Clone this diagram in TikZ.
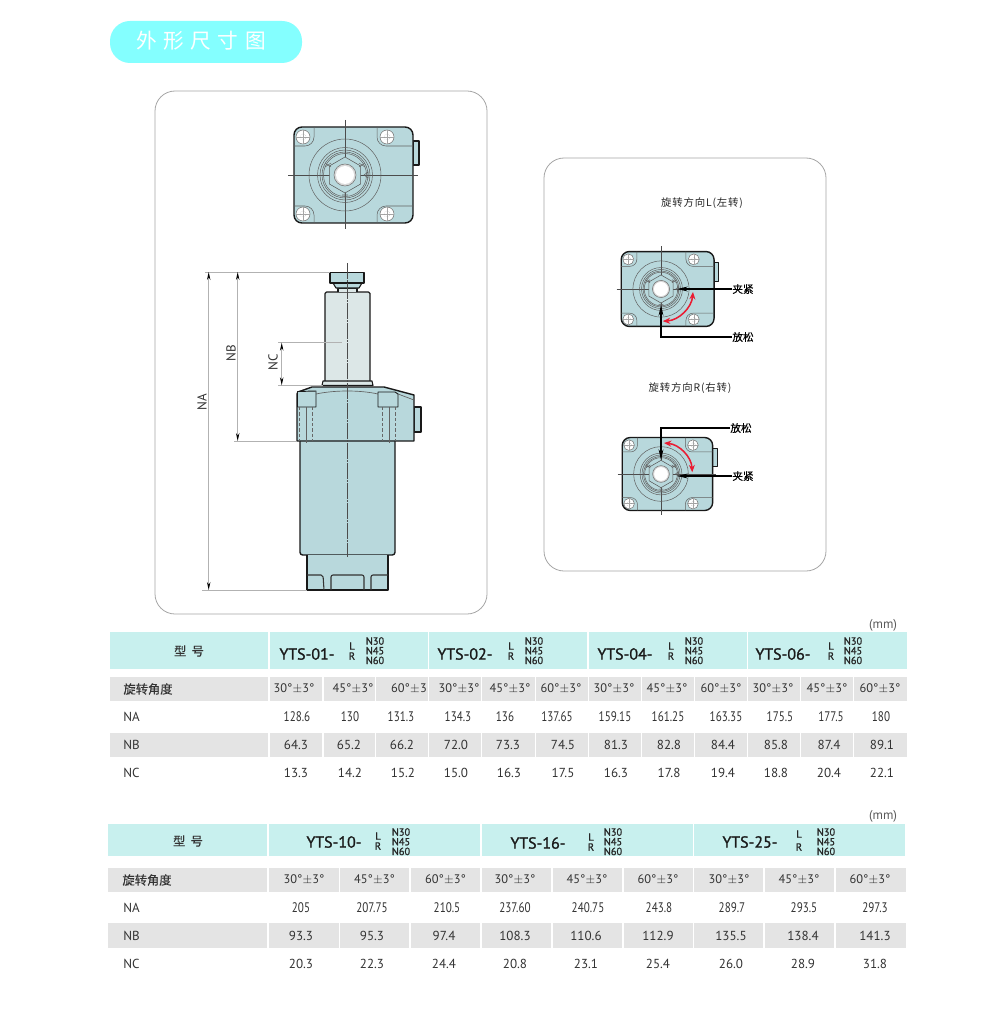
\documentclass[tikz,border=0pt]{standalone}
\usepackage{fontspec}
\usetikzlibrary{arrows.meta}
\setmainfont{PT Sans}
\newfontfamily\cjk{Noto Sans CJK SC}
\newfontfamily\cjkm[FakeBold=0.3]{Noto Sans CJK SC}
\newfontfamily\cjkt[LetterSpace=8]{Noto Sans CJK SC}
\newfontfamily\cond[FakeStretch=0.8]{PT Sans}
\newfontfamily\medf[FakeBold=1.2]{PT Sans}
\newcommand\pmt{\kern.2pt$\pm$\kern.2pt}
\definecolor{bodyc}{HTML}{B8D8DC}
\definecolor{plungerc}{HTML}{DCE7E7}
\definecolor{headc}{HTML}{C8F0EE}
\definecolor{rowc}{HTML}{E4E4E4}
\definecolor{pillc}{HTML}{84FFFF}
\definecolor{inkc}{HTML}{333333}
\definecolor{arcc}{HTML}{EA1C32}
\tikzset{
  panel/.style={draw=black!35,line width=.6pt,fill=white,rounded corners=15pt},
  part/.style={draw=black!90,line width=1.05pt,line join=round,fill=bodyc},
  thinl/.style={draw=black!62,line width=.38pt},
  hid/.style={draw=black!60,line width=.4pt,dash pattern=on 2.5pt off 1.5pt},
  axisl/.style={draw=black!70,line width=.4pt,dash pattern=on 12pt off 1pt on 1pt off 1pt},
  extl/.style={draw=black!30,line width=.7pt},
  diml/.style={draw=black!30,line width=.7pt,{Stealth[length=6pt,width=2.6pt,black]}-{Stealth[length=6pt,width=2.6pt,black]}},
  leader/.style={draw=black,line width=.9pt,-{Stealth[length=8pt,width=3.6pt]}},
  turn/.style={draw=arcc,line width=1.15pt,{Stealth[length=5.5pt,width=4.5pt]}-{Stealth[length=5.5pt,width=4.5pt]}},
  dimtext/.style={text=inkc,font=\fontsize{9.8}{10}\selectfont,rotate=90,inner sep=0pt},
  cnlabel/.style={text=black,font=\cjkm\fontsize{8}{9}\selectfont,inner sep=0pt},
  cntitle/.style={text=black!85,font=\cjkt\fontsize{7.8}{9}\selectfont,inner sep=0pt},
  thcell/.style={text=inkc,font=\cjkm\fontsize{9.2}{10}\selectfont,inner sep=0pt},
  rowlab/.style={text=inkc,font=\fontsize{9.8}{10}\selectfont,inner sep=0pt,anchor=west},
  anglet/.style={text=inkc,font=\fontsize{9.3}{10}\selectfont,inner sep=0pt},
  condv/.style={text=inkc,font=\cond\fontsize{10.4}{11}\selectfont,inner sep=0pt},
  plainv/.style={text=inkc,font=\fontsize{9.8}{10}\selectfont,inner sep=0pt},
  model/.style={text=black!90,font=\medf\fontsize{12}{13}\selectfont,inner sep=0pt},
  opt/.style={text=black!85,font=\medf\fontsize{7.8}{8}\selectfont,inner sep=0pt},
  mmlab/.style={text=black!65,font=\fontsize{9.6}{10}\selectfont,inner sep=0pt},
}
\newcommand\boltat[2]{%
  \draw[draw=black!55,line width=.4pt,fill=white] (#1,#2) circle (7);
  \draw[draw=black!35,line width=.25pt] (#1-7,#2)--(#1+7,#2) (#1,#2-7)--(#1,#2+7);
  \draw[draw=black!45,line width=.25pt,densely dotted] (#1,#2) circle (3);
}
\newcommand\topview[3]{%
\begin{scope}[shift={(#1,#2)},scale=#3]
  \draw[part,line width=.9pt] (68,-34) rectangle (74,-10);
  \draw[part,rounded corners=6pt] (-51,-48) rectangle (68,48);
  \draw[thinl] (-31,-48)--(-31,-38) arc[start angle=0,end angle=90,radius=9]--(-51,-29);
  \draw[thinl] (32,-48)--(32,-38) arc[start angle=180,end angle=90,radius=9]--(68,-29);
  \draw[thinl] (-31,48)--(-31,40) arc[start angle=0,end angle=-90,radius=9]--(-51,31);
  \draw[thinl] (32,48)--(32,40) arc[start angle=180,end angle=270,radius=9]--(68,31);
  \boltat{-42}{-38}\boltat{42}{-38}\boltat{-42}{39}\boltat{42}{39}
  \draw[draw=black!70,line width=.4pt] (-57,0)--(73,0) (0,-55)--(0,54);
  \draw[thinl] (0,0) circle (36);
  \draw[thinl] (0,0) circle (27.5);
  \draw[thinl] (0,0) circle (25);
  \draw[thinl] (0,0) circle (23);
  \draw[thinl] (0,0) circle (21.5);
  \draw[draw=black!65,line width=.4pt,fill=bodyc] (0,-18)--(15.6,-9)--(15.6,9)--(0,18)--(-15.6,9)--(-15.6,-9)--cycle;
  \draw[thinl] (-20,-12)--(-14,-8) (-14,-12)--(-20,-8) (20,-12)--(14,-8) (14,-12)--(20,-8) (-3,20)--(3,20) (0,17)--(0,23);
  \draw[thinl] (19,0)--(23,-3)--(23,3)--cycle;
  \draw[draw=black!55,line width=.4pt,fill=black!15] (0,0) circle (11);
  \draw[draw=none,fill=white] (0,0) circle (9);
\end{scope}}
\newcommand\cells[4]{\foreach \a/\b in {#4} \fill[#3] (\a,#1) rectangle (\b,#2);}
\newcommand\valrow[4]{\foreach \px/\t [count=\i] in {#4} \node[#3] (#1\i) at (\px,#2) {\t};}
% name, x, y, LR x, L y, N x, N y, N step, R offset
\newcommand\modelcell[9]{%
  \node[model] (m#1) at (#2,#3) {YTS-#1-};
  \node[opt] (l#1) at (#4,#5) {L};
  \node[opt] (r#1) at (#4,#5+#9) {R};
  \node[opt] (na#1) at (#6,#7) {N30};
  \node[opt] (nb#1) at (#6,#7+#8) {N45};
  \node[opt] (nc#1) at (#6,#7+2*#8) {N60};
}
\begin{document}
\begin{tikzpicture}[x=.75pt,y=-.75pt]
\useasboundingbox (0,0) rectangle (1000,1016);
\fill[white] (0,0) rectangle (1000,1016);
% title
\node[fill=pillc,rounded corners=15pt,minimum width=144pt,minimum height=31.5pt,inner sep=0pt] (pill) at (206,42) {};
\node[text=white,font=\cjk\fontsize{15.5}{16}\selectfont,inner sep=0pt] (ttl) at (201,41) {外\hspace{5pt}形\hspace{5pt}尺\hspace{5pt}寸\hspace{5pt}图};
% panels
\draw[panel] (155,91) rectangle (487,614);
\draw[panel] (544,158) rectangle (826,571);
% main top view
\topview{345}{175}{1}
% elevation
\draw[part,line width=.9pt] (414,407) rectangle (421,432);
\draw[part,rounded corners=2pt] (300,438)--(300,555)--(395,555)--(395,438);
\draw[part] (307,555)--(307,590)--(388,590)--(388,555);
\draw[thinl,line width=.8pt,draw=black!80,rounded corners=1.5pt] (307,575)--(323,575)--(324,590) (331,590)--(331,575)--(364,575)--(364,590) (371,590)--(371,575)--(388,575);
\draw[part] (297,394)--(298,392)--(312,387)--(384,387)--(414,395)--(414,441)--(297,441)--cycle;
\draw[thinl,line width=.5pt] (316,394) .. controls (335,390) and (360,390) .. (378,394) (398,394)--(414,400);
\draw[part,line width=.7pt] (297.5,391.5)--(316,391)--(316,407)--(297.5,407)--cycle;
\draw[part,line width=.7pt] (378,392)--(395,392)--(398,394)--(398,407)--(378,407)--cycle;
\draw[hid] (299,407)--(299,441) (312,407)--(312,441) (382,407)--(382,441) (395,407)--(395,441);
\draw[thinl] (306,407)--(306,443) (389,407)--(389,443);
\draw[part,fill=plungerc,line width=.9pt] (325,384)--(325,293.5)--(326.5,292)--(368.5,292)--(370,293.5)--(370,384);
\draw[part,fill=plungerc,line width=.8pt] (322,385.5)--(323,381)--(372,381)--(373,385.5)--cycle;
\draw[part,fill=plungerc,line width=.8pt] (338,292)--(338,288)--(357,288)--(357,292);
\draw[part,line width=.8pt] (336,288)--(333,283)--(362,283)--(359,288)--cycle;
\draw[part,line width=.8pt] (330,272.5) rectangle (364,283);
\draw[axisl] (347.3,263)--(347.3,557);
% dimensions
\coordinate (topL) at (205,272);
\coordinate (topR) at (330,272);
\coordinate (nbL) at (234,441);
\coordinate (nbR) at (297,441);
\coordinate (ncTL) at (278,342.7);
\coordinate (ncTR) at (342,342.7);
\coordinate (ncBL) at (278,385.3);
\coordinate (ncBR) at (323,385.3);
\coordinate (naL) at (202,590);
\coordinate (naR) at (307,590);
\coordinate (naT) at (208.7,272);
\coordinate (naB) at (208.7,590);
\coordinate (nbT) at (237.7,272);
\coordinate (nbB) at (237.7,441);
\coordinate (ncT) at (281.7,342.7);
\coordinate (ncB) at (281.7,385.3);
\draw[extl] (topL)--(topR);
\draw[extl] (nbL)--(nbR);
\draw[extl] (ncTL)--(ncTR);
\draw[extl] (ncBL)--(ncBR);
\draw[extl] (naL)--(naR);
\draw[diml] (naT)--(naB);
\draw[diml] (nbT)--(nbB);
\draw[diml] (ncT)--(ncB);
\node[dimtext] (NAt) at (202,402) {NA};
\node[dimtext] (NBt) at (231,353) {NB};
\node[dimtext] (NCt) at (273,362) {NC};
% rotation L
\node[cntitle] (tL) at (702,203) {旋转方向L(左转)};
\topview{661}{289}{.78}
\node[cnlabel] (clampL) at (743,289) {夹紧};
\node[cnlabel] (freeL) at (743,337) {放松};
\coordinate (clampLe) at (677,289);
\coordinate (freeLe) at (661,305);
\draw[leader] (clampL.west)--(clampLe);
\draw[leader] (freeL.west)-|(freeLe);
\draw[turn] (693,292) arc[start angle=5,end angle=87,radius=32];
% rotation R
\node[cntitle] (tR) at (690,388) {旋转方向R(右转)};
\topview{661}{474}{.76}
\node[cnlabel] (freeR) at (741,428) {放松};
\node[cnlabel] (clampR) at (743,476) {夹紧};
\coordinate (clampRe) at (677,476);
\coordinate (freeRe) at (661,460);
\draw[leader] (clampR.west)--(clampRe);
\draw[leader] (freeR.west)-|(freeRe);
\draw[turn] (664,443) arc[start angle=-85,end angle=-3,radius=31];
% table 1
\node[mmlab] (mmA) at (883,625) {(mm)};
\cells{632}{669}{headc}{110/268,270/428,429/587,589/746.5,748/907}
\cells{677}{701}{rowc}{110/268,270/322,323.5/375,376/428,429/481,482/534.5,536/587.5,589/641,642/694,695/746.5,748/800,801/853,854/906.5}
\cells{733}{757}{rowc}{110/268,270/322,323.5/375,376/428,429/481,482/534.5,536/587.5,589/641,642/694,695/746.5,748/800,801/853,854/906.5}
\node[thcell] (typeA) at (189,651) {型\hspace{4pt}号};
\modelcell{01}{307}{654}{352}{646}{375}{641}{9.7}{10}
\modelcell{02}{465}{654}{511}{646}{534}{641}{9.7}{10}
\modelcell{04}{625}{654}{671}{646}{694}{641}{9.7}{10}
\modelcell{06}{783}{654}{831}{646}{853}{641}{9.7}{10}
\node[thcell] (angA) at (148,689) {旋转角度};
\valrow{aA}{689}{anglet}{294/30°\pmt 3°,353/45°\pmt 3°,409/60°\pmt 3,459/30°\pmt 3°,510/45°\pmt 3°,561/60°\pmt 3°,614/30°\pmt 3°,667/45°\pmt 3°,721/60°\pmt 3°,773/30°\pmt 3°,827/45°\pmt 3°,880/60°\pmt 3°}
\node[rowlab] (naA) at (123,717) {NA};
\node[rowlab] (nbA) at (123,745) {NB};
\node[rowlab] (ncA) at (123,773) {NC};
\valrow{vaA}{717}{condv}{297/128.6,350/130,401/131.3,458/134.3,505/136,557/137.65,615/159.15,668/161.25,726/163.35,780/175.5,831/177.5,881/180}
\valrow{vbA}{745}{plainv}{296/64.3,349/65.2,402/66.2,456/72.0,508/73.3,563/74.5,616/81.3,669/82.8,723/84.4,776/85.8,829/87.4,882/89.1}
\valrow{vcA}{773}{plainv}{296/13.3,350/14.2,403/15.2,456/15.0,509/16.3,563/17.5,616/16.3,669/17.8,723/19.4,776/18.8,829/20.4,882/22.1}
% table 2
\node[mmlab] (mmB) at (883,816) {(mm)};
\cells{824}{856}{headc}{108/267,269/480,482/692.7,694/905}
\cells{868}{892}{rowc}{108/267,269/338.5,340/409,411/480,482/551,552.5/622,623.5/692.7,694/763,765/834,836/906}
\cells{923}{948}{rowc}{108/267,269/338.5,340/409,411/480,482/551,552.5/622,623.5/692.7,694/763,765/834,836/906}
\node[thcell] (typeB) at (188,841) {型\hspace{4pt}号};
\modelcell{10}{334}{842}{378}{836}{401}{832}{9.7}{10}
\modelcell{16}{538}{843}{591}{837}{613}{832}{9.7}{10}
\modelcell{25}{750}{842}{799}{834}{826}{832}{9.7}{13}
\node[thcell] (angB) at (147,880) {旋转角度};
\valrow{aB}{880}{anglet}{304/30°\pmt 3°,374.5/45°\pmt 3°,445.5/60°\pmt 3°,515/30°\pmt 3°,587/45°\pmt 3°,658/60°\pmt 3°,729/30°\pmt 3°,799/45°\pmt 3°,870/60°\pmt 3°}
\node[rowlab] (naB) at (123,908) {NA};
\node[rowlab] (nbB) at (123,936) {NB};
\node[rowlab] (ncB) at (123,964) {NC};
\valrow{vaB}{908}{condv}{301/205,372/207.75,447/210.5,515/237.60,588/240.75,659/243.8,732/289.7,804/293.5,875/297.3}
\valrow{vbB}{936}{plainv}{301/93.3,372/95.3,444/97.4,515/108.3,586/110.6,658/112.9,731/135.5,803/138.4,875/141.3}
\valrow{vcB}{964}{plainv}{301/20.3,372/22.3,444/24.4,515/20.8,586/23.1,658/25.4,731/26.0,803/28.9,875/31.8}
\end{tikzpicture}
\end{document}
